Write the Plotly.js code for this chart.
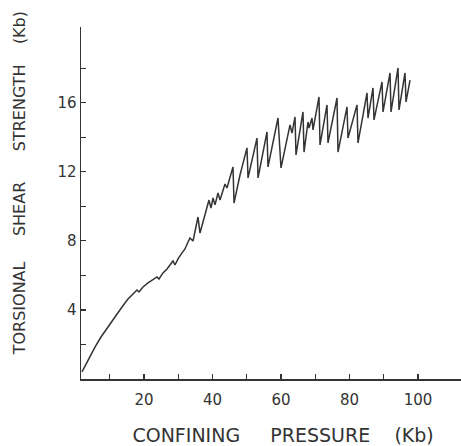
<!DOCTYPE html>
<html>
<head>
<meta charset="utf-8">
<script src="https://cdn.plot.ly/plotly-3.0.1.min.js"></script>
<style>html,body{margin:0;padding:0;background:#fff;}</style>
</head>
<body>
<div id="chart" style="width:461px;height:446px;"></div>
<script>
// Confining pressure (Kb)
var pressure = [1.9, 3.65, 5.69, 7.45, 9.49, 11.53, 13.58, 15.33, 17.08, 17.96,
  18.54, 19.71, 21.17, 22.63, 23.80, 24.38, 25.55, 26.72, 27.59, 28.47,
  29.05, 29.93, 31.10, 31.97, 32.85, 33.43, 34.31, 35.77, 36.35, 37.52,
  38.39, 38.98, 39.56, 40.15, 40.73, 41.61, 42.19, 43.65, 44.23, 45.99,
  46.28, 48.03, 50.07, 50.37, 52.99, 53.29, 55.91, 56.20, 59.12, 60.00,
  62.63, 63.21, 64.09, 64.38, 66.42, 66.72, 67.88, 68.18, 69.05, 69.34,
  71.09, 71.39, 73.43, 73.72, 76.35, 76.64, 79.27, 79.56, 82.19, 82.48,
  85.11, 85.40, 86.86, 87.15, 89.49, 89.78, 91.83, 92.12, 94.16, 94.45,
  96.20, 96.50, 97.67];
// Torsional shear strength (Kb)
var strength = [0.41, 1.10, 1.85, 2.43, 3.01, 3.65, 4.17, 4.63, 4.98, 5.15,
  5.04, 5.33, 5.56, 5.73, 5.91, 5.79, 6.14, 6.37, 6.60, 6.83,
  6.60, 6.95, 7.30, 7.53, 7.93, 8.16, 7.99, 9.38, 8.45, 9.32,
  9.96, 10.36, 9.90, 10.48, 10.08, 10.77, 10.36, 11.29, 11.06, 12.28,
  10.19, 11.81, 13.38, 11.64, 13.95, 11.64, 14.30, 12.28, 15.11, 12.22,
  14.71, 14.24, 15.17, 12.97, 15.46, 13.14, 14.88, 14.53, 15.11, 14.42,
  16.33, 13.55, 15.87, 13.67, 16.27, 13.14, 15.75, 13.95, 15.87, 13.67,
  16.56, 15.11, 16.85, 15.00, 17.20, 15.46, 17.72, 15.46, 18.01, 15.58,
  17.72, 16.04, 17.31];

var xTickVals = [10, 20, 30, 40, 50, 60, 70, 80, 90, 100];
var xTickText = ['', '20', '', '40', '', '60', '', '80', '', '100'];
var yTickVals = [2, 4, 6, 8, 10, 12, 14, 16, 18];
var yTickText = ['', '4', '', '8', '', '12', '', '16', ''];

var NB = '\u00a0';
var ZW = '\u200b';
function gap(n){ return NB.repeat(n); }
var xTitle = ZW + gap(4) + 'CONFINING' + gap(5) + 'PRESSURE' + gap(4) + '(Kb)';
var yTitle = ZW + gap(8) + 'TORSIONAL' + gap(5) + 'SHEAR' + gap(6) + 'STRENGTH' + gap(4) + '(Kb)';

var ink = '#333333';
var trace = {
  x: pressure, y: strength, type: 'scatter', mode: 'lines',
  line: {color: ink, width: 1.5}, hoverinfo: 'skip'
};

var layout = {
  width: 461, height: 446,
  margin: {l: 81, r: 0, t: 27, b: 67},
  paper_bgcolor: '#ffffff', plot_bgcolor: '#ffffff',
  showlegend: false,
  font: {family: 'DejaVu Sans, sans-serif', color: ink},
  xaxis: {
    range: [1.61, 112.55], showgrid: false, zeroline: false,
    showline: true, linecolor: ink, linewidth: 1.5,
    ticks: 'inside', ticklen: 5, tickwidth: 1.2, tickcolor: ink,
    tickvals: xTickVals, ticktext: xTickText,
    tickfont: {size: 15, color: ink}, ticklabelstandoff: 6,
    title: {text: xTitle, font: {size: 19, color: ink}, standoff: 29}
  },
  yaxis: {
    range: [0, 20.38], showgrid: false, zeroline: false,
    showline: true, linecolor: ink, linewidth: 1.5,
    ticks: 'inside', ticklen: 5, tickwidth: 1.2, tickcolor: ink,
    tickvals: yTickVals, ticktext: yTickText,
    tickfont: {size: 15, color: ink},
    title: {text: yTitle, font: {size: 16, color: ink}, standoff: 28}
  }
};

Plotly.newPlot('chart', [trace], layout, {displayModeBar: false, staticPlot: true});
</script>
</body>
</html>
